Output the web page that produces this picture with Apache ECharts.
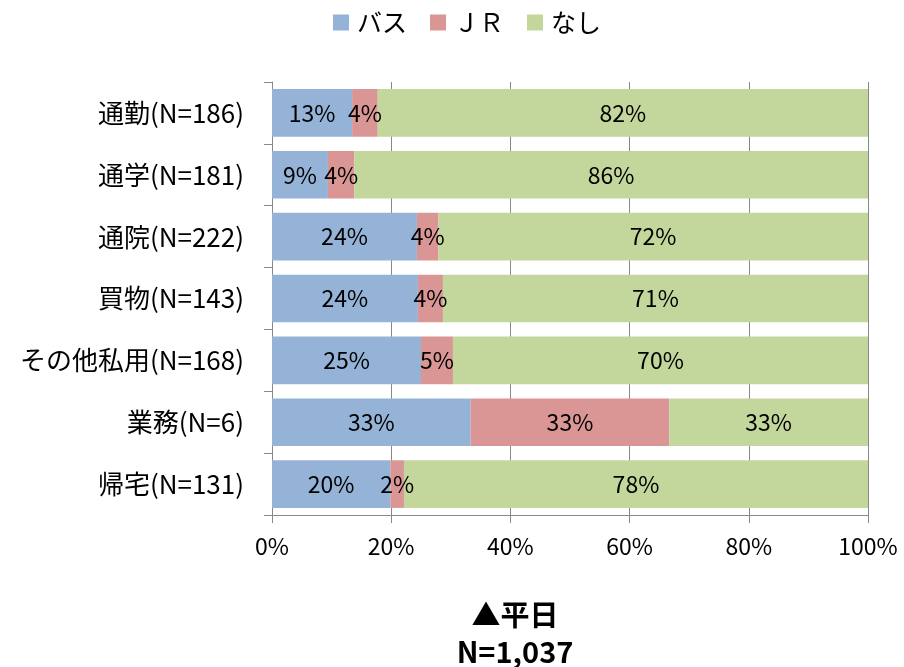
<!DOCTYPE html>
<html><head><meta charset="utf-8">
<script src="https://cdn.jsdelivr.net/npm/echarts@6/dist/echarts.min.js"></script>
<style>html,body{margin:0;padding:0;background:#fff}#c{width:904px;height:667px}</style>
</head><body><div id="c"></div>
<script>
const categories = ['通勤(N=186)','通学(N=181)','通院(N=222)','買物(N=143)','その他私用(N=168)','業務(N=6)','帰宅(N=131)'];
const seriesNames = ['バス','ＪＲ','なし'];
const bus = [13.44, 9.39, 24.32, 24.48, 25.00, 33.33, 19.85];
const jr  = [4.30, 4.42, 3.60, 4.20, 5.36, 33.33, 2.29];
const none = [82.26, 86.19, 72.07, 71.33, 69.64, 33.33, 77.86];
const xTicks = [0, 20, 40, 60, 80, 100];
const colors = ['#95B3D7','#D99694','#C3D69B'];
const font = '"Noto Sans CJK JP", "Noto Sans", sans-serif';

const chart = echarts.init(document.getElementById('c'), null, {renderer:'canvas'});
const mk = (name, data, i) => ({
  name, type:'bar', stack:'total', data, barCategoryGap:'23%',
  itemStyle:{color:colors[i]},
  label:{show:true, position:'inside', color:'#000', fontSize:23, fontFamily:font,
    formatter:p=>Math.round(p.value)+'%'}
});
chart.setOption({
  animation:false,
  textStyle:{fontFamily:font},
  legend:{top:5, left:328, itemWidth:16, itemHeight:16, itemGap:23,
    icon:'rect', textStyle:{fontSize:25, color:'#000', fontFamily:font, padding:[0,0,0,3]},
    data:seriesNames},
  title:{text:'▲平日\nN=1,037', left:510, textAlign:'center', top:591,
    textStyle:{fontSize:29, fontWeight:'bold', color:'#000', lineHeight:37, fontFamily:font}},
  grid:{left:272, right:36, top:82, bottom:152},
  xAxis:{type:'value', min:0, max:100, interval:20,
    axisLine:{show:true, lineStyle:{color:'#888'}},
    axisTick:{show:true, length:8, lineStyle:{color:'#888'}},
    splitLine:{show:true, lineStyle:{color:'#888'}},
    axisLabel:{formatter:v=>xTicks.includes(v)?v+'%':'', fontSize:23, color:'#000', margin:20, fontFamily:font}},
  yAxis:{type:'category', inverse:true, data:categories,
    axisLine:{show:true, lineStyle:{color:'#888'}},
    axisTick:{show:true, length:8, lineStyle:{color:'#888'}},
    axisLabel:{fontSize:26, color:'#000', margin:28, fontFamily:font}},
  series:[mk(seriesNames[0],bus,0), mk(seriesNames[1],jr,1), mk(seriesNames[2],none,2)]
});
</script></body></html>
